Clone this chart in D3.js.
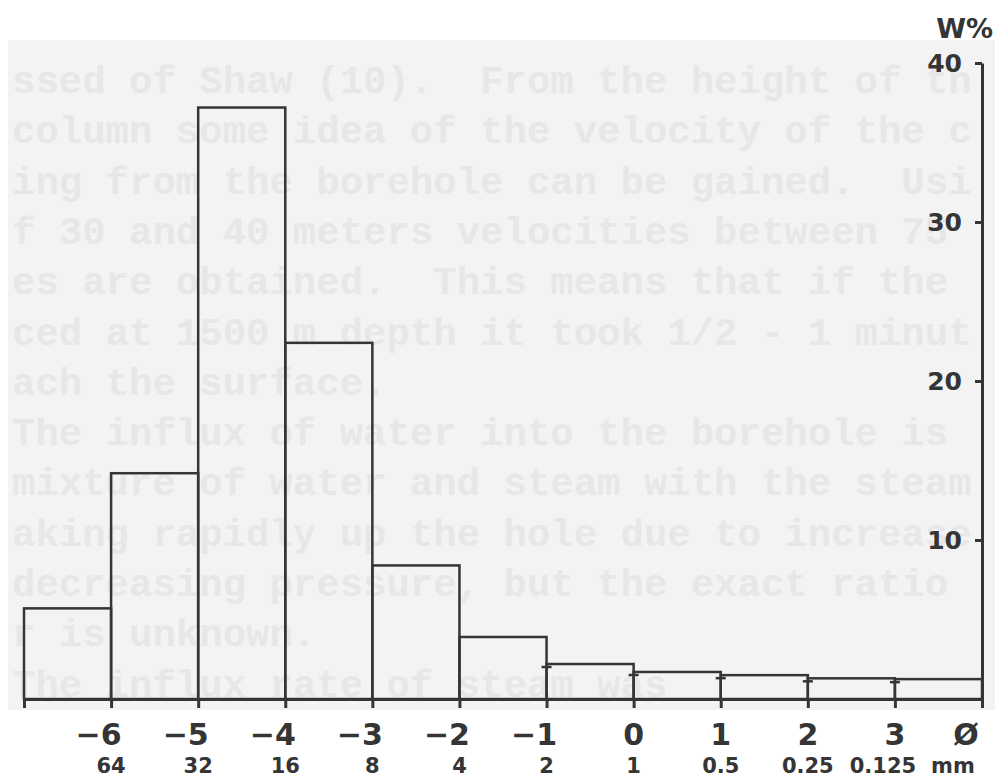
<!DOCTYPE html>
<html>
<head>
<meta charset="utf-8">
<script src="https://cdn.jsdelivr.net/npm/d3@7"></script>
<style>
  body { margin: 0; background: #fff; }
  svg { display: block; }
</style>
</head>
<body>
<div id="chart"></div>
<script>
// Grain size classes (phi), lower bin edge
const binStart = [-7, -6, -5, -4, -3, -2, -1, 0, 1, 2, 3];
// Weight percent per class
const weightPct = [5.7, 14.2, 37.2, 22.4, 8.4, 3.9, 2.2, 1.7, 1.5, 1.3, 1.25];
// Tick labels along the bottom
const phiLabels = ['−6', '−5', '−4', '−3', '−2', '−1', '0', '1', '2', '3'];
const phiTicks = [-6, -5, -4, -3, -2, -1, 0, 1, 2, 3];
const mmLabels = ['64', '32', '16', '8', '4', '2', '1', '0.5', '0.25', '0.125'];
const yTicks = [10, 20, 30, 40];
// Show-through text from the scanned page behind the figure
const pageLines = [
  'ssed of Shaw (10).  From the height of th',
  'column some idea of the velocity of the c',
  'ing from the borehole can be gained.  Usi',
  'f 30 and 40 meters velocities between 75 ',
  'es are obtained.  This means that if the ',
  'ced at 1500 m depth it took 1/2 - 1 minut',
  'ach the surface.',
  'The influx of water into the borehole is ',
  'mixture of water and steam with the steam',
  'aking rapidly up the hole due to increase',
  'decreasing pressure, but the exact ratio ',
  'r is unknown.',
  'The influx rate of steam was'
];

const width = 995, height = 779;
const ink = '#353535';
const labelFont = '"DejaVu Sans", Verdana, sans-serif';

const svg = d3.select('#chart').append('svg')
  .attr('width', width)
  .attr('height', height);

// Scanned page background
svg.append('rect')
  .attr('x', 8).attr('y', 40).attr('width', 987).attr('height', 670)
  .attr('fill', '#f3f3f3');

svg.append('g')
  .selectAll('text')
  .data(pageLines)
  .enter().append('text')
  .attr('x', 12)
  .attr('y', (d, i) => 83 + i * 50.3)
  .attr('dominant-baseline', 'central')
  .style('font-family', '"Liberation Mono", "DejaVu Sans Mono", monospace')
  .style('font-weight', 'bold')
  .style('font-size', '39px')
  .style('white-space', 'pre')
  .attr('fill', '#e7e7e7')
  .text(d => d);

// Scales
const x = d3.scaleLinear().domain([-7, 4]).range([24, 982]);
const y = d3.scaleLinear().domain([0, 40]).range([699, 63]);

// Bars
const bars = binStart.map((b, i) => ({ x0: b, x1: b + 1, v: weightPct[i] }));

svg.selectAll('.bar')
  .data(bars)
  .enter().append('rect')
  .attr('class', 'bar')
  .attr('x', d => x(d.x0))
  .attr('y', d => y(d.v))
  .attr('width', d => x(d.x1) - x(d.x0))
  .attr('height', d => y(0) - y(d.v))
  .attr('fill', 'none')
  .attr('stroke', ink)
  .attr('stroke-width', 2.5);

// Small capped markers on the fine-grained class boundaries
svg.selectAll('.cap')
  .data(bars.filter(d => d.x0 >= -1 && d.x0 <= 3))
  .enter().append('path')
  .attr('class', 'cap')
  .attr('d', d => {
    const cx = x(d.x0), top = y(d.v) + 3;
    return `M${cx - 5},${top}H${cx + 5}`;
  })
  .attr('stroke', ink)
  .attr('stroke-width', 2.5);

// Bottom axis
const xAxis = svg.append('g')
  .attr('transform', `translate(0,${y(0)})`)
  .call(d3.axisBottom(x)
    .tickValues(d3.range(-7, 5))
    .tickSize(9)
    .tickSizeOuter(0)
    .tickFormat(''));
xAxis.select('.domain').attr('stroke', ink).attr('stroke-width', 3);
xAxis.selectAll('.tick line').attr('stroke', ink).attr('stroke-width', 3);

// Right axis (ticks point left)
const yAxis = svg.append('g')
  .attr('transform', `translate(${x(4)},0)`)
  .call(d3.axisLeft(y)
    .tickValues(yTicks)
    .tickSize(7)
    .tickSizeOuter(0)
    .tickPadding(13));
yAxis.select('.domain').attr('stroke', ink).attr('stroke-width', 3);
yAxis.selectAll('.tick line').attr('stroke', ink).attr('stroke-width', 3);
yAxis.selectAll('.tick text')
  .attr('fill', ink)
  .style('font-family', labelFont)
  .style('font-weight', 'bold')
  .style('font-size', '25px');

// Unit label
svg.append('text')
  .attr('x', 993)
  .attr('y', 38)
  .attr('text-anchor', 'end')
  .attr('fill', ink)
  .style('font-family', labelFont)
  .style('font-weight', 'bold')
  .style('font-size', '27px')
  .text('W%');

// Phi labels: digit centred on its tick, minus sign hanging left
svg.selectAll('.phi')
  .data(phiTicks)
  .enter().append('text')
  .attr('class', 'phi')
  .attr('x', d => x(d) + 10.5)
  .attr('y', 745)
  .attr('text-anchor', 'end')
  .attr('fill', ink)
  .style('font-family', labelFont)
  .style('font-weight', 'bold')
  .style('font-size', '30px')
  .text((d, i) => phiLabels[i]);

svg.append('text')
  .attr('x', 966)
  .attr('y', 745)
  .attr('text-anchor', 'middle')
  .attr('fill', ink)
  .style('font-family', labelFont)
  .style('font-weight', 'bold')
  .style('font-size', '30px')
  .text('Ø');

// Millimetre labels
svg.selectAll('.mm')
  .data(phiTicks)
  .enter().append('text')
  .attr('class', 'mm')
  .attr('x', d => x(d) + (d === 3 ? -12 : 0))
  .attr('y', 773)
  .attr('text-anchor', 'middle')
  .attr('fill', ink)
  .style('font-family', labelFont)
  .style('font-weight', 'bold')
  .style('font-size', '21px')
  .text((d, i) => mmLabels[i]);

svg.append('text')
  .attr('x', 953)
  .attr('y', 773)
  .attr('text-anchor', 'middle')
  .attr('fill', ink)
  .style('font-family', labelFont)
  .style('font-weight', 'bold')
  .style('font-size', '21px')
  .text('mm');
</script>
</body>
</html>
